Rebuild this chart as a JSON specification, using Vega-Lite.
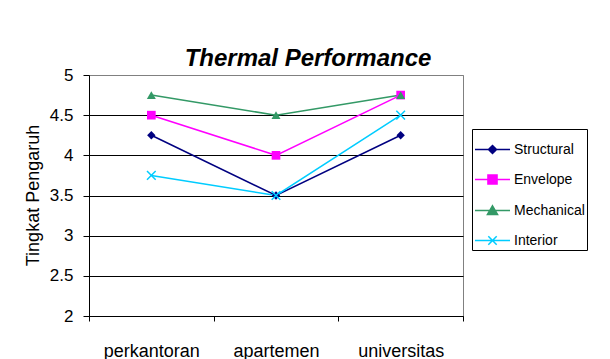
{
  "$schema": "https://vega.github.io/schema/vega-lite/v6.json",
  "width": 374,
  "height": 241,
  "autosize": {"type": "none"},
  "padding": {"left": 89, "top": 75, "right": 147, "bottom": 43},
  "background": "white",
  "title": {
    "text": "Thermal Performance",
    "font": "Liberation Sans",
    "fontSize": 24,
    "fontWeight": "bold",
    "fontStyle": "italic",
    "color": "black",
    "anchor": "middle",
    "dx": 32,
    "dy": 28,
    "baseline": "alphabetic",
    "offset": 4
  },
  "data": {
    "values": [
      {"lokasi": "perkantoran", "series": "Structural", "nilai": 4.25},
      {"lokasi": "apartemen", "series": "Structural", "nilai": 3.5},
      {"lokasi": "universitas", "series": "Structural", "nilai": 4.25},
      {"lokasi": "perkantoran", "series": "Envelope", "nilai": 4.5},
      {"lokasi": "apartemen", "series": "Envelope", "nilai": 4.0},
      {"lokasi": "universitas", "series": "Envelope", "nilai": 4.75},
      {"lokasi": "perkantoran", "series": "Mechanical", "nilai": 4.75},
      {"lokasi": "apartemen", "series": "Mechanical", "nilai": 4.5},
      {"lokasi": "universitas", "series": "Mechanical", "nilai": 4.75},
      {"lokasi": "perkantoran", "series": "Interior", "nilai": 3.75},
      {"lokasi": "apartemen", "series": "Interior", "nilai": 3.5},
      {"lokasi": "universitas", "series": "Interior", "nilai": 4.5}
    ]
  },
  "encoding": {
    "x": {
      "field": "lokasi",
      "type": "nominal",
      "sort": ["perkantoran", "apartemen", "universitas"],
      "scale": {"type": "band", "paddingInner": 0, "paddingOuter": 0},
      "bandPosition": 0.5,
      "axis": {
        "title": null,
        "labelAngle": 0,
        "labelFont": "Liberation Sans",
        "labelFontSize": 18,
        "labelColor": "black",
        "labelBaseline": "alphabetic",
        "labelPadding": 35,
        "tickBand": "extent",
        "tickSize": 5,
        "tickColor": "black",
        "domainColor": "black",
        "grid": false
      }
    },
    "y": {
      "field": "nilai",
      "type": "quantitative",
      "scale": {"domain": [2, 5], "nice": false, "zero": false},
      "axis": {
        "title": "Tingkat Pengaruh",
        "values": [2, 2.5, 3, 3.5, 4, 4.5, 5],
        "format": "~g",
        "labelFont": "Liberation Sans",
        "labelFontSize": 17,
        "labelColor": "black",
        "labelPadding": 10,
        "tickSize": 6,
        "tickColor": "black",
        "domainColor": "black",
        "grid": true,
        "gridColor": {"condition": {"test": "datum.value === 5", "value": "#808080"}, "value": "black"},
        "gridOpacity": 1,
        "titleFont": "Liberation Sans",
        "titleFontSize": 18,
        "titleFontWeight": "normal",
        "titleColor": "black",
        "titleAngle": -90,
        "titleBaseline": "bottom",
        "titleAlign": "center",
        "titleX": -47,
        "titleY": 120
      }
    }
  },
  "layer": [
    {
      "mark": {"type": "line", "strokeWidth": 1.5},
      "encoding": {
        "color": {
          "field": "series",
          "type": "nominal",
          "scale": {
            "domain": ["Structural", "Envelope", "Mechanical", "Interior"],
            "range": ["#000080", "#FF00FF", "#339966", "#00CCFF"]
          },
          "legend": {
            "orient": "none",
            "legendX": 383,
            "legendY": 54,
            "title": null,
            "strokeColor": "black",
            "fillColor": "white",
            "padding": 2,
            "symbolSize": 1225,
            "symbolStrokeWidth": 1.5,
            "labelFont": "Liberation Sans",
            "labelFontSize": 14,
            "labelColor": "black",
            "labelOffset": 3,
            "rowPadding": 4,
            "encode": {
              "symbols": {
                "update": {
                  "shape": {"signal": "datum.value === 'Structural' ? 'M-1,0H1M0,-0.23L0.23,0L0,0.23L-0.23,0Z' : datum.value === 'Envelope' ? 'M-1,0H1M-0.26,-0.26H0.26V0.26H-0.26Z' : datum.value === 'Mechanical' ? 'M-1,0H1M0,-0.27L0.29,0.23H-0.29Z' : 'M-1,0H1M-0.24,-0.24L0.24,0.24M-0.24,0.24L0.24,-0.24'"},
                  "fill": {"scale": "color", "field": "value"},
                  "stroke": {"scale": "color", "field": "value"},
                  "strokeWidth": {"value": 1.5},
                  "size": {"value": 1225},
                  "opacity": {"value": 1}
                }
              }
            }
          }
        }
      }
    },
    {
      "transform": [{"filter": "datum.series !== 'Interior'"}],
      "mark": {"type": "point", "filled": true, "opacity": 1},
      "encoding": {
        "color": {"field": "series", "type": "nominal", "legend": null},
        "shape": {
          "field": "series",
          "type": "nominal",
          "scale": {"domain": ["Structural", "Envelope", "Mechanical"], "range": ["diamond", "square", "triangle-up"]},
          "legend": null
        },
        "size": {
          "field": "series",
          "type": "ordinal",
          "scale": {"domain": ["Structural", "Envelope", "Mechanical"], "range": [70, 81, 100]},
          "legend": null
        }
      }
    },
    {
      "transform": [{"filter": "datum.series === 'Interior'"}],
      "mark": {"type": "point", "filled": false, "opacity": 1, "shape": "M-1,-1L1,1M-1,1L1,-1", "size": 75, "strokeWidth": 1.5},
      "encoding": {
        "color": {"field": "series", "type": "nominal", "legend": null}
      }
    }
  ],
  "config": {
    "view": {"stroke": "#808080", "strokeWidth": 1},
    "font": "Liberation Sans"
  }
}
